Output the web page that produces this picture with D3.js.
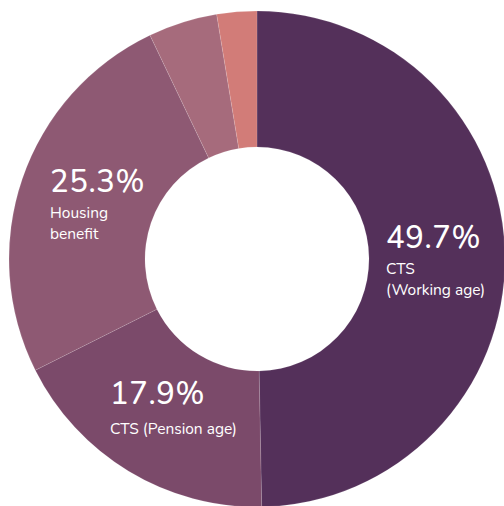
<!DOCTYPE html>
<html>
<head>
<meta charset="utf-8">
<script src="https://cdn.jsdelivr.net/npm/d3@7"></script>
<style>
  html, body { margin: 0; padding: 0; background: #fff; }
  svg { display: block; }
  .pct { font-family: 'Nunito', 'Lato', 'Open Sans', sans-serif; fill: #fff; font-size: 31px; font-weight: 500; letter-spacing: 0.6px; }
  .sub { font-family: 'Nunito', 'Lato', 'Open Sans', sans-serif; fill: #fff; font-size: 15.5px; }
</style>
</head>
<body>
<svg id="chart"></svg>
<script>
// chart values, clockwise from 12 o'clock
const categories = ['CTS (Working age)', 'CTS (Pension age)', 'Housing benefit', 'Other', 'Other (small)']
const shares = [49.7, 17.9, 25.3, 4.5, 2.6]
const pctLabels = ['49.7%', '17.9%', '25.3%', '', '']
const subLabels = [['CTS', '(Working age)'], ['CTS (Pension age)'], ['Housing', 'benefit'], [], []]

class DonutChart {
    constructor(_config) {
        this.config = {
            parentElement: _config.parentElement,
            containerWidth: 504,
            containerHeight: 506,
            cx: 257,
            cy: 259,
            outerRadius: 248,
            innerRadius: 112,
        }
        this.colors = ['#54305a', '#7b4a6a', '#8e5973', '#a66b7c', '#d27c78']
        // where each label block starts (left edge, baseline of the big number)
        this.labelPos = [[386, 248], [110, 404], [50, 192], null, null]
        this.data = categories.map((c, i) => ({name: c, value: shares[i], pct: pctLabels[i], sub: subLabels[i]}))
        this.initVis()
    }

    initVis() {
        let vis = this
        vis.svg = d3.select(vis.config.parentElement)
            .attr('width', vis.config.containerWidth)
            .attr('height', vis.config.containerHeight)

        vis.chart = vis.svg.append('g')
            .attr('transform', `translate(${vis.config.cx}, ${vis.config.cy})`)

        vis.pie = d3.pie().sort(null).value(d => d.value)
        vis.arc = d3.arc()
            .innerRadius(vis.config.innerRadius)
            .outerRadius(vis.config.outerRadius)

        vis.renderVis()
    }

    renderVis() {
        let vis = this

        vis.chart.selectAll('.slice')
            .data(vis.pie(vis.data))
            .join('path')
            .attr('class', 'slice')
            .attr('d', vis.arc)
            .attr('fill', (d, i) => vis.colors[i])
            .attr('stroke', 'rgba(255,255,255,0.12)')
            .attr('stroke-width', 1)

        //labels
        vis.data.forEach((d, i) => {
            if (!vis.labelPos[i]) return
            let [x, y] = vis.labelPos[i]
            vis.svg.append('text')
                .attr('class', 'pct')
                .attr('x', x)
                .attr('y', y)
                .text(d.pct)
            d.sub.forEach((line, j) => {
                vis.svg.append('text')
                    .attr('class', 'sub')
                    .attr('x', x)
                    .attr('y', y + (i === 1 ? 30 : 26) + j * 21)
                    .text(line)
            })
        })
    }
}

new DonutChart({parentElement: '#chart'})
</script>
</body>
</html>
